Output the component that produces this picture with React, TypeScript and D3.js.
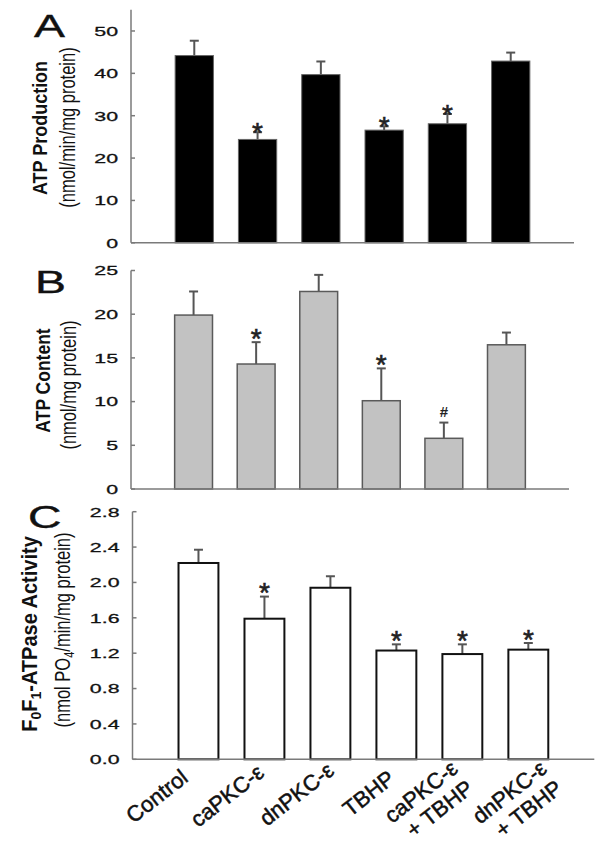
import React from 'react';
import * as d3 from 'd3';

// ---------- data ----------
const categories = ['Control', 'caPKC-ε', 'dnPKC-ε', 'TBHP', 'caPKC-ε + TBHP', 'dnPKC-ε + TBHP'];
const labelLines: string[][] = [
  ['Control'],
  ['caPKC-ε'],
  ['dnPKC-ε'],
  ['TBHP'],
  ['caPKC-ε', '+ TBHP'],
  ['dnPKC-ε', '+ TBHP'],
];

const atpProduction = [44.2, 24.4, 39.7, 26.6, 28.1, 42.9];
const atpProductionErr = [3.5, 1.7, 3.1, 0.9, 2.3, 2.0];
const atpProductionSig = ['', '*', '', '*', '*', ''];
const ticksA = [0, 10, 20, 30, 40, 50];

const atpContent = [19.9, 14.3, 22.6, 10.1, 5.8, 16.5];
const atpContentErr = [2.7, 2.5, 1.9, 3.7, 1.8, 1.4];
const atpContentSig = ['', '*', '', '*', '#', ''];
const ticksB = [0, 5, 10, 15, 20, 25];

const atpase = [2.22, 1.59, 1.94, 1.23, 1.19, 1.24];
const atpaseErr = [0.15, 0.25, 0.13, 0.07, 0.11, 0.075];
const atpaseSig = ['', '*', '', '*', '*', '*'];
const ticksC = [0, 0.4, 0.8, 1.2, 1.6, 2.0, 2.4, 2.8];

// ---------- layout / style ----------
const FONT = 'Liberation Sans, Arial, Helvetica, sans-serif';
const AXIS = '#7a7a7a';
// small per-label placement nudges of the rotated category labels (px)
const LABEL_NUDGE: [number, number][] = [
  [-9, 21],
  [1, 16],
  [5, 14],
  [0, 22],
  [-3, 12],
  [20, 12],
];

type PanelProps = {
  letter: string;
  letterPos: [number, number];
  values: number[];
  errs: number[];
  sig: string[];
  ticks: number[];
  fmt: (v: number) => string;
  yMax: number;
  yRange: [number, number];
  xRange: [number, number];
  fill: string;
  stroke: string;
  strokeWidth: number;
  sigGap: number;
};

function Panel(p: PanelProps) {
  const x = d3.scalePoint<string>().domain(categories).range(p.xRange).padding(1);
  const y = d3.scaleLinear().domain([0, p.yMax]).range(p.yRange);
  const bw = x.step() * 0.605;
  const x0 = p.xRange[0];
  const y0 = y(0);
  const tf = 13.5;
  const sf = 28;
  return (
    <g>
      <text
        transform={`translate(${p.letterPos[0]},${p.letterPos[1]}) scale(1.45,1)`}
        fontFamily={FONT}
        fontSize={32}
        fill="#111"
        stroke="#111"
        strokeWidth={0.4}
      >
        {p.letter}
      </text>
      {categories.map((c, i) => {
        const cx = x(c)!;
        const top = y(p.values[i]);
        const et = y(p.values[i] + p.errs[i]);
        return (
          <g key={c}>
            <line x1={cx} x2={cx} y1={top} y2={et} stroke="#555" strokeWidth={2} />
            <line x1={cx - 4.5} x2={cx + 4.5} y1={et} y2={et} stroke="#555" strokeWidth={2} />
            <rect
              x={cx - bw / 2}
              y={top}
              width={bw}
              height={y0 - top}
              fill={p.fill}
              stroke={p.stroke}
              strokeWidth={p.strokeWidth}
            />
            {p.sig[i] === '*' && (
              <text
                x={cx}
                y={et - p.sigGap + 0.59 * sf}
                textAnchor="middle"
                fontFamily={FONT}
                fontSize={sf}
                fill="#222"
                stroke="#222"
                strokeWidth={0.6}
              >
                *
              </text>
            )}
            {p.sig[i] === '#' && (
              <text
                x={cx}
                y={et - p.sigGap + 0.36 * 15}
                textAnchor="middle"
                fontFamily={FONT}
                fontSize={15}
                fontWeight="bold"
                fill="#222"
              >
                #
              </text>
            )}
          </g>
        );
      })}
      <line x1={x0} x2={x0} y1={p.yRange[0]} y2={p.yRange[1]} stroke={AXIS} strokeWidth={1.5} />
      <line x1={x0} x2={p.xRange[1]} y1={y0} y2={y0} stroke={AXIS} strokeWidth={1.5} />
      {p.ticks.map((t) => (
        <g key={t}>
          <line x1={x0} x2={x0 + 4} y1={y(t)} y2={y(t)} stroke={AXIS} strokeWidth={1.5} />
          <text
            transform={`translate(${x0 - 13},${y(t) + 0.36 * tf}) scale(1.58,1)`}
            textAnchor="end"
            fontFamily={FONT}
            fontSize={tf}
            fill="#111"
            stroke="#111"
            strokeWidth={0.3}
          >
            {p.fmt(t)}
          </text>
        </g>
      ))}
    </g>
  );
}

export default function App() {
  const xC = d3.scalePoint<string>().domain(categories).range([132.5, 594.3]).padding(1);
  const baseC = 759.3;
  const lf = 22;
  return (
    <svg
      width={601}
      height={850}
      style={{ position: 'absolute', left: 0, top: 0, background: '#fff' }}
    >
      <rect x={0} y={0} width={601} height={850} fill="#fff" />
      <Panel
        letter="A"
        letterPos={[34, 37]}
        values={atpProduction}
        errs={atpProductionErr}
        sig={atpProductionSig}
        ticks={ticksA}
        fmt={(v) => String(v)}
        yMax={55}
        yRange={[242.8, 9.8]}
        xRange={[131, 574]}
        fill="#000"
        stroke="#666"
        strokeWidth={1}
        sigGap={7}
      />
      <Panel
        letter="B"
        letterPos={[35, 293]}
        values={atpContent}
        errs={atpContentErr}
        sig={atpContentSig}
        ticks={ticksB}
        fmt={(v) => String(v)}
        yMax={25}
        yRange={[489, 270.5]}
        xRange={[131, 569]}
        fill="#c2c2c2"
        stroke="#5a5a5a"
        strokeWidth={1.5}
        sigGap={11}
      />
      <Panel
        letter="C"
        letterPos={[28, 528]}
        values={atpase}
        errs={atpaseErr}
        sig={atpaseSig}
        ticks={ticksC}
        fmt={(v) => v.toFixed(1)}
        yMax={2.8}
        yRange={[baseC, 511.7]}
        xRange={[132.5, 594.3]}
        fill="#fff"
        stroke="#111"
        strokeWidth={2}
        sigGap={11}
      />

      <g fontFamily={FONT} fill="#111">
        <text transform="translate(46.5,128) scale(1.15,1) rotate(-90)" textAnchor="middle" fontWeight="bold" fontSize={18}>
          ATP Production
        </text>
        <text transform="translate(75,127.5) scale(1.3,1) rotate(-90)" textAnchor="middle" fontSize={16.5}>
          (nmol/min/mg protein)
        </text>
        <text transform="translate(49.5,380.5) scale(1.15,1) rotate(-90)" textAnchor="middle" fontWeight="bold" fontSize={17.5}>
          ATP Content
        </text>
        <text transform="translate(75.5,385) scale(1.3,1) rotate(-90)" textAnchor="middle" fontSize={16.5}>
          (nmol/mg protein)
        </text>
        <text transform="translate(36.5,634) scale(1.1,1) rotate(-90)" textAnchor="middle" fontWeight="bold" fontSize={20}>
          F<tspan fontSize={14} dy={4}>0</tspan>
          <tspan dy={-4}>F</tspan>
          <tspan fontSize={14} dy={4}>1</tspan>
          <tspan dy={-4}>-ATPase Activity</tspan>
        </text>
        <text transform="translate(70,630) scale(1.3,1) rotate(-90)" textAnchor="middle" fontSize={16.5}>
          (nmol PO<tspan fontSize={11} dy={3}>4</tspan>
          <tspan dy={-3}>/min/mg protein)</tspan>
        </text>
      </g>

      {categories.map((c, i) => (
        <g
          key={c}
          transform={`translate(${xC(c)! + LABEL_NUDGE[i][0]},${baseC + LABEL_NUDGE[i][1]}) rotate(-38)`}
        >
          {labelLines[i].map((ln, j) => (
            <text
              key={j}
              x={0}
              y={j * 25}
              textAnchor="end"
              fontFamily={FONT}
              fontSize={lf}
              fill="#111"
              stroke="#111"
              strokeWidth={0.5}
            >
              {ln}
            </text>
          ))}
        </g>
      ))}
    </svg>
  );
}
